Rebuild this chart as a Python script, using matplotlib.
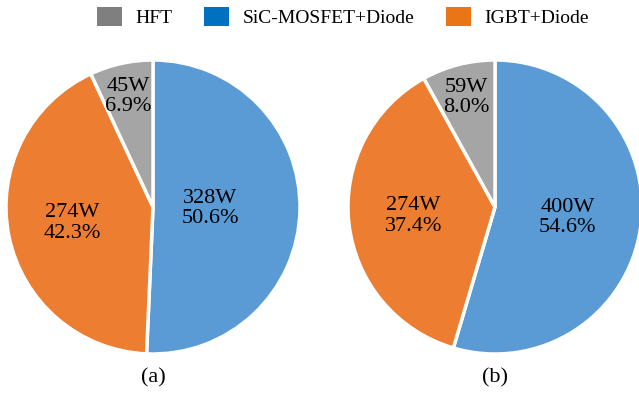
import matplotlib.pyplot as plt
from matplotlib.patches import Patch
import numpy as np

plt.rcParams['font.family'] = ['Liberation Serif', 'DejaVu Serif']

# loss breakdown, clockwise from 12 o'clock: SiC, IGBT, HFT
names = ['SiC-MOSFET+Diode', 'IGBT+Diode', 'HFT']
loss_a = [328, 274, 45]
loss_b = [400, 274, 59]
pct_a = ['50.6%', '42.3%', '6.9%']
pct_b = ['54.6%', '37.4%', '8.0%']
captions = ['(a)', '(b)']

pie_colors = ['#5B9BD5', '#ED7D31', '#A5A5A5']
legend_colors = {'HFT': '#7F7F7F', 'SiC-MOSFET+Diode': '#0070C0', 'IGBT+Diode': '#E97517'}
# radial position of each label (fraction of radius)
lab_r_a = [0.39, 0.56, 0.77]
lab_r_b = [0.50, 0.56, 0.77]

W, H = 639, 393
fig = plt.figure(figsize=(W / 100, H / 100), dpi=100)


def draw(cx, cy, r, vals, pcts, lab_r, cap):
    ax = fig.add_axes([(cx - r) / W, (H - cy - r) / H, 2 * r / W, 2 * r / H])
    wedges, _ = ax.pie(vals, colors=pie_colors, startangle=90, counterclock=False,
                       radius=1, wedgeprops=dict(edgecolor='white', linewidth=2.5))
    for w, v, p, d in zip(wedges, vals, pcts, lab_r):
        mid = np.deg2rad((w.theta1 + w.theta2) / 2)
        ax.text(d * np.cos(mid), d * np.sin(mid), '%dW\n%s' % (v, p),
                ha='center', va='center', fontsize=16, linespacing=1.1)
    ax.set_xlim(-1, 1)
    ax.set_ylim(-1, 1)
    ax.set_aspect('equal')
    ax.axis('off')
    fig.text(cx / W, 1 - 378 / H, cap, ha='center', va='center', fontsize=16)


draw(153, 207, 147, loss_a, pct_a, lab_r_a, captions[0])
draw(495, 207, 147, loss_b, pct_b, lab_r_b, captions[1])

order = ['HFT', 'SiC-MOSFET+Diode', 'IGBT+Diode']
handles = [Patch(facecolor=legend_colors[n], edgecolor='none') for n in order]
fig.legend(handles, order, loc='center', bbox_to_anchor=(343 / W, 1 - 17 / H),
           ncol=3, frameon=False, fontsize=14, handlelength=1.3, handleheight=1.1,
           columnspacing=1.6, handletextpad=0.7)

fig.savefig('out.png', dpi=100)
